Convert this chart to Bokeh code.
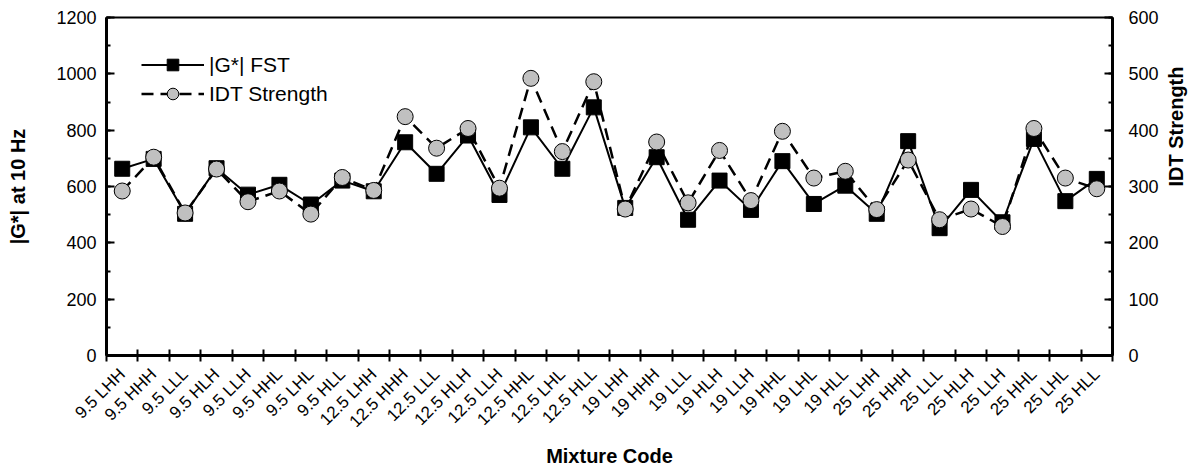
import math
import numpy as np
from bokeh.plotting import figure
from bokeh.models import (Range1d, LinearAxis, FixedTicker, SingleIntervalTicker,
                          Legend, LegendItem, ColumnDataSource)
from bokeh.embed import file_html
from bokeh.resources import INLINE

categories = ["9.5 LHH", "9.5 HHH", "9.5 LLL", "9.5 HLH", "9.5 LLH", "9.5 HHL", "9.5 LHL", "9.5 HLL",
              "12.5 LHH", "12.5 HHH", "12.5 LLL", "12.5 HLH", "12.5 LLH", "12.5 HHL", "12.5 LHL", "12.5 HLL",
              "19 LHH", "19 HHH", "19 LLL", "19 HLH", "19 LLH", "19 HHL", "19 LHL", "19 HLL",
              "25 LHH", "25 HHH", "25 LLL", "25 HLH", "25 LLH", "25 HHL", "25 LHL", "25 HLL"]
g_fst = [663, 698, 503, 665, 571, 606, 536, 621,
         583, 757, 645, 781, 570, 810, 663, 881,
         524, 704, 482, 621, 517, 690, 538, 603,
         503, 761, 452, 588, 473, 769, 548, 627]
idt_strength = [292, 352, 253, 331, 273, 292, 251, 316,
                293, 424, 368, 403, 297, 492, 362, 486,
                260, 379, 271, 364, 275, 398, 315, 327,
                259, 347, 241, 260, 229, 403, 315, 296]

FONT = "Liberation Sans"
n = len(categories)
xpos = list(range(1, n + 1))

p = figure(width=1200, height=469, x_range=Range1d(0.5, n + 0.5), y_range=Range1d(0, 1200),
           output_backend="svg", toolbar_location=None,
           x_axis_location=None, y_axis_location=None,
           min_border_left=106, min_border_right=88, min_border_top=17, min_border_bottom=114)
p.extra_y_ranges = {"idt": Range1d(0, 600)}
p.xgrid.visible = False
p.ygrid.visible = False
p.outline_line_color = "black"
p.outline_line_width = 2
p.outline_line_alpha = 1

# bottom axis
xa = LinearAxis(ticker=FixedTicker(ticks=xpos, minor_ticks=[i + 0.5 for i in range(n + 1)]),
                major_label_overrides={x: c for x, c in zip(xpos, categories)},
                major_label_orientation=math.pi / 4,
                major_tick_line_color=None,
                minor_tick_in=6, minor_tick_out=6, minor_tick_line_width=2,
                minor_tick_line_color="black", axis_line_color="black",
                axis_line_width=3,
                major_label_text_font=FONT, major_label_text_font_size="17px",
                major_label_text_color="black",
                major_label_standoff=10,
                axis_label="Mixture Code", axis_label_text_font=FONT,
                axis_label_text_font_size="20px", axis_label_text_font_style="bold",
                axis_label_text_color="black",
                axis_label_standoff=4)
p.add_layout(xa, "below")

# left axis
ya = LinearAxis(ticker=SingleIntervalTicker(interval=200, num_minor_ticks=2),
                major_tick_in=8, major_tick_out=0, minor_tick_in=4, minor_tick_out=0,
                major_tick_line_width=2, minor_tick_line_width=2, axis_line_width=3,
                major_tick_line_color="black", minor_tick_line_color="black", axis_line_color="black",
                major_label_text_font=FONT, major_label_text_font_size="18px",
                major_label_text_color="black",
                major_label_standoff=10,
                axis_label="|G*| at 10 Hz", axis_label_text_font=FONT,
                axis_label_text_font_size="20px", axis_label_text_font_style="bold",
                axis_label_text_color="black",
                axis_label_standoff=24)
p.add_layout(ya, "left")

# right axis
yb = LinearAxis(y_range_name="idt", ticker=SingleIntervalTicker(interval=100, num_minor_ticks=2),
                major_tick_in=8, major_tick_out=0, minor_tick_in=4, minor_tick_out=0,
                major_tick_line_width=2, minor_tick_line_width=2, axis_line_width=3,
                major_tick_line_color="black", minor_tick_line_color="black", axis_line_color="black",
                major_label_text_font=FONT, major_label_text_font_size="18px",
                major_label_text_color="black",
                major_label_standoff=16,
                axis_label="IDT Strength", axis_label_text_font=FONT,
                axis_label_text_font_size="20px", axis_label_text_font_style="bold",
                axis_label_text_color="black",
                axis_label_standoff=14, axis_label_orientation=math.pi / 2)
p.add_layout(yb, "right")

src = ColumnDataSource(dict(x=xpos, g=g_fst, idt=idt_strength))

l1 = p.line("x", "g", source=src, line_color="black", line_width=2)
m1 = p.scatter("x", "g", source=src, marker="square", size=15, fill_color="black", line_color="black")
l2 = p.line("x", "idt", source=src, y_range_name="idt", line_color="black", line_width=2.5,
            line_dash="12 7")
m2 = p.scatter("x", "idt", source=src, y_range_name="idt", marker="circle", size=16,
               fill_color="#c0c0c0", line_color="black", line_width=1)

legend = Legend(items=[LegendItem(label="|G*| FST", renderers=[l1, m1]),
                       LegendItem(label="IDT Strength", renderers=[l2, m2])],
                location=(35, 247), margin=0, padding=6, spacing=0,
                glyph_width=63, glyph_height=29, label_standoff=5,
                label_height=29,
                label_text_font=FONT, label_text_font_size="21px",
                label_text_color="black",
                border_line_color=None, background_fill_alpha=0)
p.add_layout(legend)

open("out.html", "w").write(file_html(p, INLINE))
